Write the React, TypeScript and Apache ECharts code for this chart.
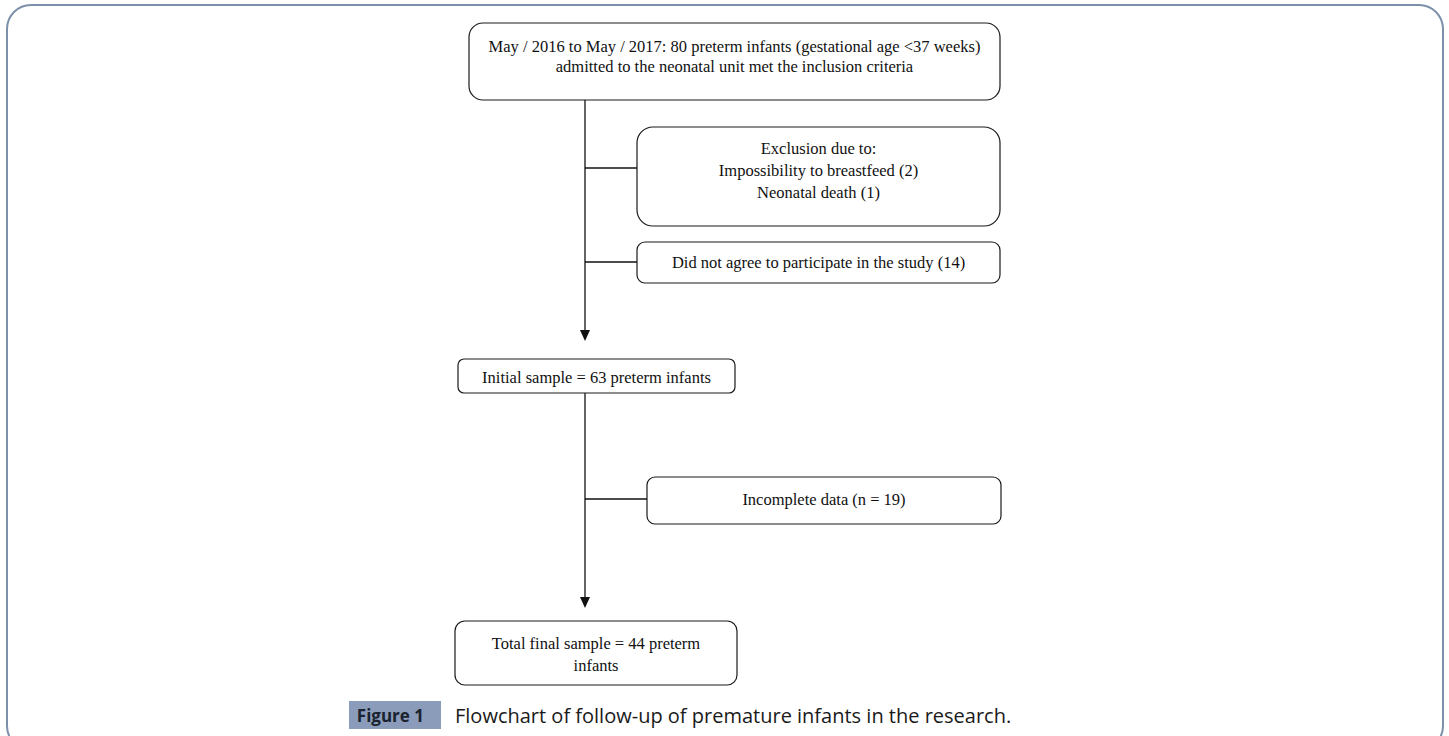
import React, { useEffect, useRef } from "react";
import * as echarts from "echarts";

// ---- Data (flowchart contents) ----
const startLines = [
  "May / 2016 to May / 2017: 80 preterm infants (gestational age <37 weeks)",
  "admitted to the neonatal unit met the inclusion criteria",
];
const exclusionLines = ["Exclusion due to:", "Impossibility to breastfeed (2)", "Neonatal death (1)"];
const refusedLines = ["Did not agree to participate in the study (14)"];
const initialLines = ["Initial sample = 63 preterm infants"];
const incompleteLines = ["Incomplete data (n = 19)"];
const finalLines = ["Total final sample = 44 preterm", "infants"];
const figureLabel = "Figure 1";
const captionText = "Flowchart of follow-up of premature infants in the research.";

// ---- Layout ----
const W = 1449;
const H = 736;
const SERIF = "'Liberation Serif', 'DejaVu Serif', serif";
const SANS = "'Open Sans', 'Noto Sans', sans-serif";
const MAIN_X = 585;

type Box = { lines: string[]; x: number; y: number; w: number; h: number; r: number; ty: number; lh: number };

const boxes: Box[] = [
  { lines: startLines, x: 469, y: 23, w: 531, h: 77, r: 14, ty: 46, lh: 20 },
  { lines: exclusionLines, x: 637, y: 127, w: 363, h: 99, r: 16, ty: 148, lh: 22 },
  { lines: refusedLines, x: 637, y: 242, w: 363, h: 41, r: 8, ty: 262, lh: 20 },
  { lines: initialLines, x: 458, y: 359, w: 277, h: 34, r: 6, ty: 377, lh: 20 },
  { lines: incompleteLines, x: 647, y: 477, w: 354, h: 47, r: 8, ty: 499, lh: 20 },
  { lines: finalLines, x: 455, y: 621, w: 282, h: 64, r: 10, ty: 643, lh: 22 },
];

function buildGraphics() {
  const els: any[] = [];
  // outer frame
  els.push({
    type: "rect",
    shape: { x: 7, y: 5, width: 1436, height: 745, r: 24 },
    style: { fill: "#fff", stroke: "#7d90aa", lineWidth: 2 },
    z: 0,
  });
  boxes.forEach((b) => {
    els.push({
      type: "rect",
      shape: { x: b.x, y: b.y, width: b.w, height: b.h, r: b.r },
      style: { fill: "#fff", stroke: "#1a1a1a", lineWidth: 1.2 },
      z: 2,
    });
    b.lines.forEach((t, i) => {
      els.push({
        type: "text",
        x: b.x + b.w / 2,
        y: b.ty + i * b.lh,
        style: {
          text: t,
          fill: "#111",
          font: `16.5px ${SERIF}`,
          align: "center",
          verticalAlign: "middle",
        },
        z: 3,
      });
    });
  });
  // main lines
  const line = (x1: number, y1: number, x2: number, y2: number) => ({
    type: "line",
    shape: { x1, y1, x2, y2 },
    style: { stroke: "#111", lineWidth: 1.3 },
    z: 1,
  });
  els.push(line(MAIN_X, 100, MAIN_X, 332));
  els.push(line(MAIN_X, 168, 637, 168));
  els.push(line(MAIN_X, 262, 637, 262));
  els.push(line(MAIN_X, 393, MAIN_X, 598));
  els.push(line(MAIN_X, 499, 647, 499));
  const arrow = (tipY: number) => ({
    type: "polygon",
    shape: { points: [[MAIN_X - 5, tipY - 11], [MAIN_X + 5, tipY - 11], [MAIN_X, tipY]] },
    style: { fill: "#111" },
    z: 1,
  });
  els.push(arrow(341));
  els.push(arrow(608));
  // caption
  els.push({
    type: "rect",
    shape: { x: 349, y: 701, width: 92, height: 28 },
    style: { fill: "#8a9cb9" },
    z: 2,
  });
  els.push({
    type: "text",
    x: 424,
    y: 715,
    style: { text: figureLabel, fill: "#1b2230", font: `bold 17px ${SANS}`, align: "right", verticalAlign: "middle" },
    z: 3,
  });
  els.push({
    type: "text",
    x: 455,
    y: 715,
    style: { text: captionText, fill: "#1a1a1a", font: `20px ${SANS}`, align: "left", verticalAlign: "middle" },
    z: 3,
  });
  return els;
}

export default function App() {
  const ref = useRef<HTMLDivElement>(null);
  useEffect(() => {
    if (!ref.current) return;
    const chart = echarts.init(ref.current, undefined, { renderer: "svg" });
    chart.setOption({
      animation: false,
      backgroundColor: "#fff",
      graphic: { elements: buildGraphics() },
    });
    return () => chart.dispose();
  }, []);
  return (
    <div
      ref={ref}
      style={{ position: "fixed", left: 0, top: 0, width: W, height: H, background: "#fff" }}
    />
  );
}
